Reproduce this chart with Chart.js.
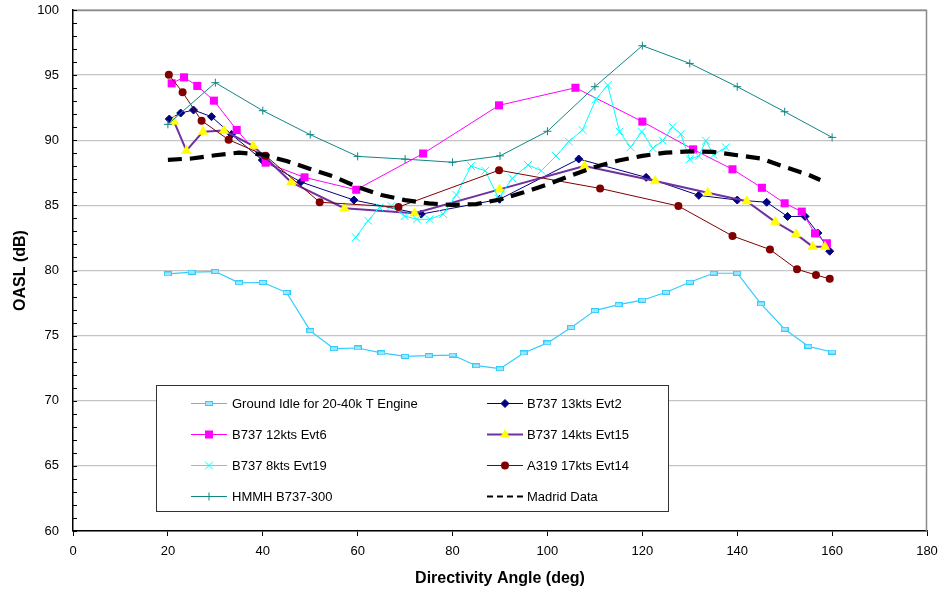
<!DOCTYPE html>
<html>
<head>
<meta charset="utf-8">
<title>OASL vs Directivity Angle</title>
<script src="https://cdn.jsdelivr.net/npm/chart.js@4.4.1/dist/chart.umd.min.js"></script>
<style>
  html, body { margin: 0; padding: 0; background: #ffffff; }
  #wrap { width: 943px; height: 592px; }
</style>
</head>
<body>
<div id="wrap"><canvas id="chart" width="943" height="592"></canvas></div>
<script>
// ---- Data: directivity angle (deg) and overall A-weighted sound level (dB) ----
const idleAngle = [20, 25, 30, 35, 40, 45, 50, 55, 60, 65, 70, 75, 80, 85, 90, 95, 100, 105, 110, 115, 120, 125, 130, 135, 140, 145, 150, 155, 160];
const idleLevel = [79.74, 79.87, 79.92, 79.05, 79.08, 78.31, 75.38, 74.0, 74.05, 73.67, 73.41, 73.46, 73.51, 72.69, 72.46, 73.67, 74.44, 75.62, 76.92, 77.38, 77.72, 78.33, 79.1, 79.79, 79.79, 77.44, 75.49, 74.18, 73.74];

const evt2Angle = [20.3, 22.7, 25.4, 29.2, 33.4, 39.9, 48.0, 59.2, 73.4, 89.9, 106.6, 120.8, 131.9, 140.0, 146.2, 150.6, 154.3, 157.0, 159.5];
const evt2Level = [91.63, 92.09, 92.32, 91.81, 90.45, 88.48, 86.8, 85.41, 84.33, 85.47, 88.56, 87.15, 85.77, 85.41, 85.24, 84.15, 84.15, 82.88, 81.48];

const evt6Angle = [20.8, 23.4, 26.2, 29.7, 34.5, 40.6, 48.8, 59.7, 73.8, 89.8, 105.9, 120.0, 130.7, 139.0, 145.2, 150.0, 153.6, 156.4, 158.9];
const evt6Level = [94.37, 94.83, 94.17, 93.04, 90.79, 88.28, 87.15, 86.2, 88.98, 92.68, 94.03, 91.43, 89.3, 87.77, 86.35, 85.16, 84.52, 82.85, 82.09];

const evt15Angle = [21.3, 23.9, 27.4, 31.8, 38.0, 46.0, 57.2, 72.0, 89.9, 107.8, 122.7, 133.8, 142.0, 148.0, 152.4, 155.9, 158.5];
const evt15Level = [91.43, 89.2, 90.66, 90.74, 89.56, 86.77, 84.78, 84.39, 86.23, 88.02, 86.87, 85.97, 85.32, 83.73, 82.79, 81.83, 81.82];

const evt19Angle = [59.6, 62.2, 64.6, 67.1, 69.9, 72.5, 75.2, 78.0, 80.8, 83.9, 86.9, 89.7, 92.6, 95.9, 98.7, 101.8, 104.5, 107.4, 110.2, 112.7, 115.2, 117.5, 119.9, 122.2, 124.3, 126.4, 128.1, 130.0, 131.9, 133.4, 135.0, 137.6];
const evt19Level = [82.55, 83.83, 84.85, 84.95, 84.18, 83.93, 83.93, 84.34, 85.8, 88.02, 87.66, 85.54, 87.08, 88.1, 87.66, 88.79, 89.9, 90.79, 93.14, 94.24, 90.66, 89.46, 90.66, 89.38, 89.97, 91.04, 90.48, 88.54, 88.79, 89.97, 88.87, 89.46];

const evt14Angle = [20.2, 23.1, 27.1, 32.8, 40.6, 52.0, 68.6, 89.8, 111.1, 127.6, 139.0, 146.9, 152.6, 156.6, 159.5];
const evt14Level = [95.03, 93.68, 91.5, 90.04, 88.81, 85.24, 84.87, 87.7, 86.3, 84.95, 82.65, 81.61, 80.09, 79.66, 79.36];

const hmmhAngle = [20, 30, 40, 50, 60, 70, 80, 90, 100, 110, 120, 130, 140, 150, 160];
const hmmhLevel = [91.22, 94.42, 92.27, 90.43, 88.76, 88.55, 88.31, 88.8, 90.69, 94.11, 97.26, 95.9, 94.11, 92.19, 90.22];

const madridAngle = [20, 25, 30, 35, 40, 45, 50, 55, 60, 65, 70, 75, 80, 85, 90, 95, 100, 105, 110, 115, 120, 125, 130, 135, 140, 145, 150, 155, 157.5];
const madridLevel = [88.5, 88.6, 88.85, 89.05, 88.9, 88.4, 87.8, 87.2, 86.4, 85.8, 85.4, 85.15, 85.03, 85.1, 85.45, 86.0, 86.6, 87.3, 87.95, 88.45, 88.8, 89.05, 89.15, 89.1, 88.85, 88.6, 87.95, 87.35, 86.95];

const seriesNames = [
  'Ground Idle for 20-40k T Engine',
  'B737 13kts Evt2',
  'B737 12kts Evt6',
  'B737 14kts Evt15',
  'B737 8kts Evt19',
  'A319 17kts Evt14',
  'HMMH B737-300',
  'Madrid Data'
];

const xTicks = [0, 20, 40, 60, 80, 100, 120, 140, 160, 180];
const yTicks = [60, 65, 70, 75, 80, 85, 90, 95, 100];

const FONT = "'Liberation Sans', Arial, Helvetica, sans-serif";

function pairs(xs, ys) { return xs.map((x, i) => ({ x: x, y: ys[i] })); }

// small outlined dash used as the ground-idle marker
const idleMark = document.createElement('canvas');
idleMark.width = 8; idleMark.height = 5;
(function () {
  const c = idleMark.getContext('2d');
  c.fillStyle = '#9fe6ff';
  c.fillRect(0.5, 0.5, 7, 4);
  c.strokeStyle = '#33ccff';
  c.lineWidth = 1;
  c.strokeRect(0.5, 0.5, 7, 4);
})();

const datasets = [
  { label: seriesNames[0], data: pairs(idleAngle, idleLevel), borderColor: '#33ccff', backgroundColor: '#9fe6ff',
    borderWidth: 1.2, pointStyle: idleMark, pointRadius: 4, order: 8, mk: 'idle' },
  { label: seriesNames[1], data: pairs(evt2Angle, evt2Level), borderColor: '#000080', backgroundColor: '#000080',
    borderWidth: 1, pointStyle: 'rectRot', pointRadius: 4, pointBorderWidth: 1, order: 7, mk: 'rectRot' },
  { label: seriesNames[2], data: pairs(evt6Angle, evt6Level), borderColor: '#ff00ff', backgroundColor: '#ff00ff',
    borderWidth: 1, pointStyle: 'rect', pointRadius: 5.7, pointBorderWidth: 0, order: 6, mk: 'rect' },
  { label: seriesNames[3], data: pairs(evt15Angle, evt15Level), borderColor: '#7030a0', backgroundColor: '#ffff00',
    pointBorderColor: '#ffff00', borderWidth: 2, pointStyle: 'triangle', pointRadius: 5.6, pointBorderWidth: 0.5, order: 5, mk: 'triangle' },
  { label: seriesNames[4], data: pairs(evt19Angle, evt19Level), borderColor: '#00ffff', backgroundColor: '#00ffff',
    borderWidth: 1, pointStyle: 'crossRot', pointRadius: 5.5, pointBorderWidth: 1, order: 4, mk: 'crossRot' },
  { label: seriesNames[5], data: pairs(evt14Angle, evt14Level), borderColor: '#800000', backgroundColor: '#800000',
    borderWidth: 1, pointStyle: 'circle', pointRadius: 4, pointBorderWidth: 0, order: 3, mk: 'circle' },
  { label: seriesNames[6], data: pairs(hmmhAngle, hmmhLevel), borderColor: '#108585', backgroundColor: '#108585',
    borderWidth: 1, pointStyle: 'cross', pointRadius: 4, pointBorderWidth: 1, order: 2, mk: 'cross' },
  { label: seriesNames[7], data: pairs(madridAngle, madridLevel), borderColor: '#000000', backgroundColor: '#000000',
    borderWidth: 4.2, borderDash: [14, 8], pointRadius: 0, order: 1, mk: 'none' }
];
datasets.forEach(d => { d.showLine = true; d.tension = 0; d.fill = false; if (!d.pointBorderColor) d.pointBorderColor = d.borderColor; d.pointBackgroundColor = d.backgroundColor; });

function drawMark(ctx, ds, x, y) {
  const kind = ds.mk;
  ctx.save();
  ctx.fillStyle = ds.pointBackgroundColor;
  ctx.strokeStyle = ds.pointBorderColor;
  ctx.lineWidth = 1;
  ctx.beginPath();
  if (kind === 'idle') {
    ctx.drawImage(idleMark, Math.round(x - 4), Math.round(y - 2.5));
  } else if (kind === 'rectRot') {
    const r = 4;
    ctx.moveTo(x - r, y); ctx.lineTo(x, y - r); ctx.lineTo(x + r, y); ctx.lineTo(x, y + r); ctx.closePath();
    ctx.fill(); ctx.stroke();
  } else if (kind === 'rect') {
    ctx.fillRect(x - 4, y - 4, 8, 8);
  } else if (kind === 'triangle') {
    const r = 5.6;
    ctx.moveTo(x, y - r); ctx.lineTo(x + r * 0.866, y + r / 2); ctx.lineTo(x - r * 0.866, y + r / 2); ctx.closePath();
    ctx.fill();
  } else if (kind === 'crossRot') {
    const o = 3.9;
    ctx.moveTo(x - o, y - o); ctx.lineTo(x + o, y + o); ctx.moveTo(x + o, y - o); ctx.lineTo(x - o, y + o);
    ctx.stroke();
  } else if (kind === 'circle') {
    ctx.arc(x, y, 4, 0, Math.PI * 2); ctx.fill();
  } else if (kind === 'cross') {
    const r = 4;
    ctx.moveTo(x - r, y); ctx.lineTo(x + r, y); ctx.moveTo(x, y - r); ctx.lineTo(x, y + r);
    ctx.stroke();
  }
  ctx.restore();
}

// plot frame, minor ticks on the level axis, and the boxed two-column key
const decorations = {
  id: 'decorations',
  afterDraw(chart) {
    const ctx = chart.ctx;
    const a = chart.chartArea;
    const ys = chart.scales.y;
    ctx.save();
    // top and right frame lines
    ctx.strokeStyle = '#8a8a8a';
    ctx.lineWidth = 1.5;
    ctx.beginPath();
    ctx.moveTo(a.left, a.top + 0.5); ctx.lineTo(a.right - 0.5, a.top + 0.5); ctx.lineTo(a.right - 0.5, a.bottom);
    ctx.stroke();
    // minor ticks every 1 dB, drawn inward
    ctx.strokeStyle = '#000000';
    ctx.lineWidth = 1;
    ctx.beginPath();
    for (let v = ys.min; v <= ys.max; v += 1) {
      const py = Math.round(ys.getPixelForValue(v)) + 0.5;
      ctx.moveTo(a.left, py); ctx.lineTo(a.left + 4, py);
    }
    ctx.stroke();

    // key box
    const bx = 156, by = 385, bw = 512, bh = 126;
    ctx.fillStyle = '#ffffff';
    ctx.fillRect(bx, by, bw, bh);
    ctx.strokeStyle = '#333333';
    ctx.lineWidth = 1;
    ctx.strokeRect(bx + 0.5, by + 0.5, bw, bh);

    const colLine = [191, 487];
    const colText = [232, 527];
    const rowY = [403, 434, 465, 496];
    ctx.font = '13px ' + FONT;
    ctx.textBaseline = 'middle';
    ctx.textAlign = 'left';
    chart.data.datasets.forEach((ds, i) => {
      const col = i % 2, row = Math.floor(i / 2);
      const x0 = colLine[col], x1 = x0 + 36, y = rowY[row];
      ctx.save();
      ctx.strokeStyle = ds.borderColor;
      ctx.lineWidth = ds.mk === 'none' ? 2 : Math.min(ds.borderWidth, 2);
      if (ds.mk === 'none') ctx.setLineDash([6, 4]);
      ctx.beginPath();
      ctx.moveTo(x0, y + 0.5); ctx.lineTo(x1, y + 0.5);
      ctx.stroke();
      ctx.restore();
      drawMark(ctx, ds, (x0 + x1) / 2, y + 0.5);
      ctx.fillStyle = '#000000';
      ctx.fillText(ds.label, colText[col], y + 1);
    });
    ctx.restore();
  }
};

new Chart(document.getElementById('chart'), {
  type: 'scatter',
  data: { datasets: datasets },
  plugins: [decorations],
  options: {
    responsive: false,
    animation: false,
    devicePixelRatio: 1,
    layout: { padding: { top: 10, right: 16, left: 0, bottom: 0 } },
    plugins: { legend: { display: false }, tooltip: { enabled: false } },
    elements: { line: { borderJoinStyle: 'round' } },
    scales: {
      x: {
        type: 'linear',
        min: xTicks[0], max: xTicks[xTicks.length - 1],
        afterBuildTicks: s => { s.ticks = xTicks.map(v => ({ value: v })); },
        ticks: { color: '#000000', font: { family: FONT, size: 13 }, padding: 8, maxRotation: 0 },
        grid: { display: true, drawOnChartArea: false, drawTicks: true, tickLength: 5, color: '#000000', lineWidth: 1 },
        border: { display: true, color: '#000000', width: 1.5 },
        title: { display: true, text: 'Directivity Angle (deg)', color: '#000000',
                 font: { family: FONT, size: 16, weight: 'bold' }, padding: { top: 0, bottom: 4 } },
        afterFit: s => { s.height = 61; s.paddingLeft = 0; s.paddingRight = 0; }
      },
      y: {
        type: 'linear',
        min: yTicks[0], max: yTicks[yTicks.length - 1],
        afterBuildTicks: s => { s.ticks = yTicks.map(v => ({ value: v })); },
        ticks: { color: '#000000', font: { family: FONT, size: 13 }, padding: 14 },
        grid: { display: true, drawTicks: false, color: '#c4c4c4', lineWidth: 1.3 },
        border: { display: true, color: '#000000', width: 1.5 },
        title: { display: true, text: 'OASL (dB)', color: '#000000',
                 font: { family: FONT, size: 16, weight: 'bold' }, padding: { top: 11, bottom: 0 } },
        afterFit: s => { s.width = 73; s.paddingTop = 0; s.paddingBottom = 0; }
      }
    }
  }
});
</script>
</body>
</html>
